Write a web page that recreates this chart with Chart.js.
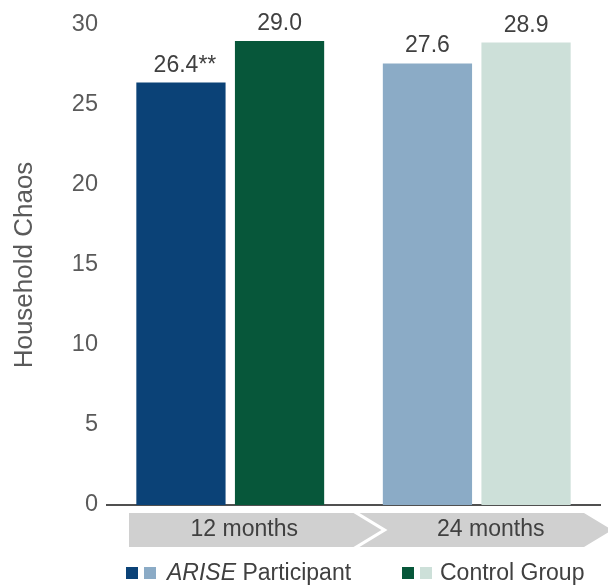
<!DOCTYPE html>
<html>
<head>
<meta charset="utf-8">
<script src="https://cdn.jsdelivr.net/npm/chart.js@4/dist/chart.umd.min.js"></script>
<style>
  html, body { margin: 0; padding: 0; background: #ffffff; }
  #wrap { position: relative; width: 608px; height: 588px; }
  #chart { position: absolute; left: 0; top: 0; }
  .legend-group {
    position: absolute; top: 559px; display: flex; align-items: center;
    font-family: "Liberation Sans", Arial, sans-serif; font-size: 23px; color: #404040;
    white-space: nowrap;
  }
  .sq { width: 12px; height: 12px; display: inline-block; }
</style>
</head>
<body>
<div id="wrap">
  <canvas id="chart" width="608" height="588"></canvas>
  <div class="legend-group" style="left:126px">
    <span class="sq" style="background:#0b4277"></span>
    <span class="sq" style="background:#8babc6;margin-left:6px"></span>
    <span style="margin-left:11px"><i>ARISE</i> Participant</span>
  </div>
  <div class="legend-group" style="left:402px">
    <span class="sq" style="background:#07573a"></span>
    <span class="sq" style="background:#cde0d9;margin-left:6px"></span>
    <span style="margin-left:8px">Control Group</span>
  </div>
</div>
<script>
// Follow-up points
const categories = ['12 months', '24 months'];
// Mean household chaos score by group
const ariseValues = [26.4, 27.6];
const controlValues = [29.0, 28.9];
// Significance markers appended to value labels
const ariseMarks = ['**', ''];
const controlMarks = ['', ''];
const yTicks = [0, 5, 10, 15, 20, 25, 30];

const FONT = '"Liberation Sans", Arial, sans-serif';

// Grey chevron arrows behind the category labels
const chevronPlugin = {
  id: 'chevrons',
  beforeDraw(chart) {
    const xs = chart.scales.x;
    const ctx = chart.ctx;
    const n = categories.length;
    const step = xs.width / n;
    const top = xs.top + 8, bot = xs.top + 42, mid = (top + bot) / 2;
    const depth = 28;
    ctx.save();
    ctx.fillStyle = '#d0d0d0';
    for (let i = 0; i < n; i++) {
      const start = i === 0 ? xs.left + 22 : xs.left + i * step + 6;
      const end = i === n - 1 ? xs.right - 16 : xs.left + (i + 1) * step;
      ctx.beginPath();
      ctx.moveTo(start, top);
      ctx.lineTo(end, top);
      ctx.lineTo(end + depth, mid);
      ctx.lineTo(end, bot);
      ctx.lineTo(start, bot);
      if (i > 0) ctx.lineTo(start + depth, mid);
      ctx.closePath();
      ctx.fill();
    }
    ctx.restore();
  }
};

// Value labels above each bar
const valueLabelPlugin = {
  id: 'valueLabels',
  afterDatasetsDraw(chart) {
    const ctx = chart.ctx;
    ctx.save();
    ctx.font = '23px ' + FONT;
    ctx.fillStyle = '#404040';
    ctx.textAlign = 'center';
    ctx.textBaseline = 'alphabetic';
    chart.data.datasets.forEach((ds, di) => {
      const meta = chart.getDatasetMeta(di);
      meta.data.forEach((bar, i) => {
        const txt = ds.data[i].toFixed(1) + (ds.marks[i] || '');
        const shift = ds.marks[i] ? 4 : 0;
        ctx.fillText(txt, bar.x + shift, bar.y - 11);
      });
    });
    ctx.restore();
  }
};

new Chart(document.getElementById('chart'), {
  type: 'bar',
  data: {
    labels: categories,
    datasets: [
      {
        label: 'ARISE Participant',
        data: ariseValues,
        marks: ariseMarks,
        backgroundColor: ['#0b4277', '#8babc6']
      },
      {
        label: 'Control Group',
        data: controlValues,
        marks: controlMarks,
        backgroundColor: ['#07573a', '#cde0d9']
      }
    ]
  },
  options: {
    responsive: false,
    animation: false,
    devicePixelRatio: 1,
    layout: { padding: { top: 25, right: 8, left: 0, bottom: 0 } },
    datasets: { bar: { categoryPercentage: 0.8, barPercentage: 0.905 } },
    plugins: { legend: { display: false }, tooltip: { enabled: false } },
    scales: {
      x: {
        grid: { display: false, drawTicks: false },
        border: { display: true, color: '#505050', width: 2 },
        ticks: {
          font: { family: FONT, size: 23 },
          color: '#404040',
          padding: 11,
          labelOffset: 14,
          maxRotation: 0
        },
        afterFit(scale) { scale.height = 83; }
      },
      y: {
        min: 0,
        max: 30,
        afterBuildTicks(scale) { scale.ticks = yTicks.map(v => ({ value: v })); },
        grid: { display: false, drawTicks: false },
        border: { display: false },
        ticks: {
          font: { family: FONT, size: 23.5 },
          color: '#5a5a5a',
          padding: 9
        },
        title: {
          display: true,
          text: 'Household Chaos',
          font: { family: FONT, size: 26 },
          color: '#5a5a5a',
          padding: { top: 9, bottom: 0 }
        },
        afterFit(scale) { scale.width = 107; }
      }
    }
  },
  plugins: [chevronPlugin, valueLabelPlugin]
});
</script>
</body>
</html>
